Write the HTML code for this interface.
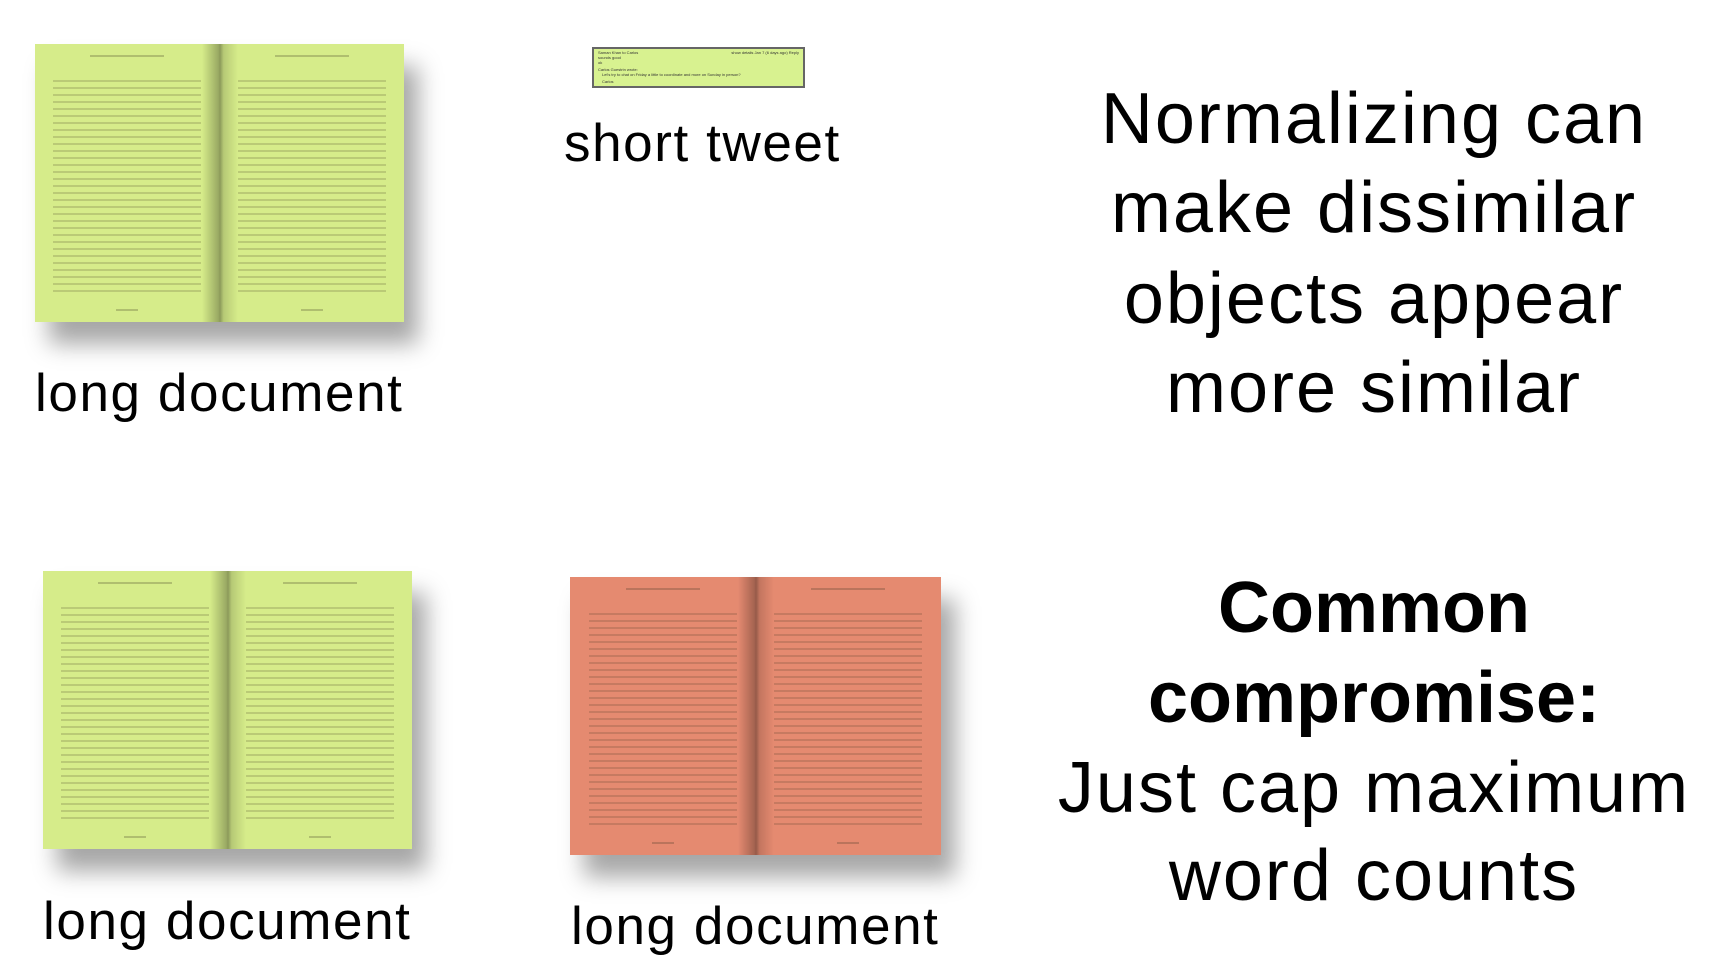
<!DOCTYPE html>
<html><head><meta charset="utf-8"><style>
body{margin:0;width:1714px;height:964px;background:#fff;position:relative;overflow:hidden;font-family:"Liberation Sans",sans-serif;color:#000}
.book{position:absolute;box-shadow:14px 22px 22px rgba(0,0,0,.35);overflow:hidden}
.book .pg{position:absolute;top:0;bottom:0;width:50%}
.book .l{left:0}.book .r{right:0}
.book .sp{position:absolute;top:0;bottom:0;left:calc(50% - 18px);width:36px;background:linear-gradient(90deg,rgba(0,0,0,0),rgba(0,0,0,.28) 45%,rgba(0,0,0,.35) 50%,rgba(0,0,0,.15) 60%,rgba(0,0,0,0))}
.book .tx{position:absolute;top:13%;bottom:9%;left:10%;right:10%;background:repeating-linear-gradient(180deg,rgba(60,50,30,.18) 0 2px,transparent 2px 7px)}
.book .hd{position:absolute;top:4%;left:30%;right:30%;height:2px;background:rgba(60,50,30,.25)}
.book .ft{position:absolute;bottom:4%;left:44%;right:44%;height:2px;background:rgba(60,50,30,.25)}
.g{background:#d6ec8a}.rd{background:#e58a70}
.lbl{position:absolute;font-size:53px;white-space:nowrap;line-height:1;letter-spacing:1.6px}
.rt{position:absolute;left:1034px;width:680px;text-align:center;font-size:72px;line-height:1;white-space:nowrap;letter-spacing:2px}
.b{font-weight:bold;letter-spacing:0}
</style></head><body>

<div class="book g" style="left:35px;top:44px;width:369px;height:278px">
 <div class="pg l"><div class="hd"></div><div class="tx"></div><div class="ft"></div></div>
 <div class="pg r"><div class="hd"></div><div class="tx"></div><div class="ft"></div></div>
 <div class="sp"></div></div>
<div class="lbl" style="left:35px;top:367px">long document</div>

<div style="position:absolute;left:592px;top:47px;width:201px;height:35px;background:#d8f290;border:2px solid #666;font-size:4px;color:#333;padding:1px 4px;box-sizing:content-box">
<div style="display:flex;justify-content:space-between"><span>Saman Khan to Carlos</span><span>show details Jan 7 (6 days ago) Reply</span></div>
<div>sounds good</div><div>ok</div><div style="margin-top:2px">Carlos Guestrin wrote:</div><div style="padding-left:4px">Let's try to chat on Friday a little to coordinate and more on Sunday in person?</div><div style="padding-left:4px;margin-top:2px">Carlos</div></div>
<div class="lbl" style="left:564px;top:117px">short tweet</div>

<div class="rt" style="top:83px">Normalizing can</div>
<div class="rt" style="top:172px">make dissimilar</div>
<div class="rt" style="top:263px">objects appear</div>
<div class="rt" style="top:352px">more similar</div>

<div class="book g" style="left:43px;top:571px;width:369px;height:278px">
 <div class="pg l"><div class="hd"></div><div class="tx"></div><div class="ft"></div></div>
 <div class="pg r"><div class="hd"></div><div class="tx"></div><div class="ft"></div></div>
 <div class="sp"></div></div>
<div class="lbl" style="left:43px;top:895px">long document</div>

<div class="book rd" style="left:570px;top:577px;width:371px;height:278px">
 <div class="pg l"><div class="hd"></div><div class="tx"></div><div class="ft"></div></div>
 <div class="pg r"><div class="hd"></div><div class="tx"></div><div class="ft"></div></div>
 <div class="sp"></div></div>
<div class="lbl" style="left:571px;top:900px">long document</div>

<div class="rt b" style="top:572px">Common</div>
<div class="rt b" style="top:662px">compromise:</div>
<div class="rt" style="top:752px">Just cap maximum</div>
<div class="rt" style="top:840px">word counts</div>
</body></html>
